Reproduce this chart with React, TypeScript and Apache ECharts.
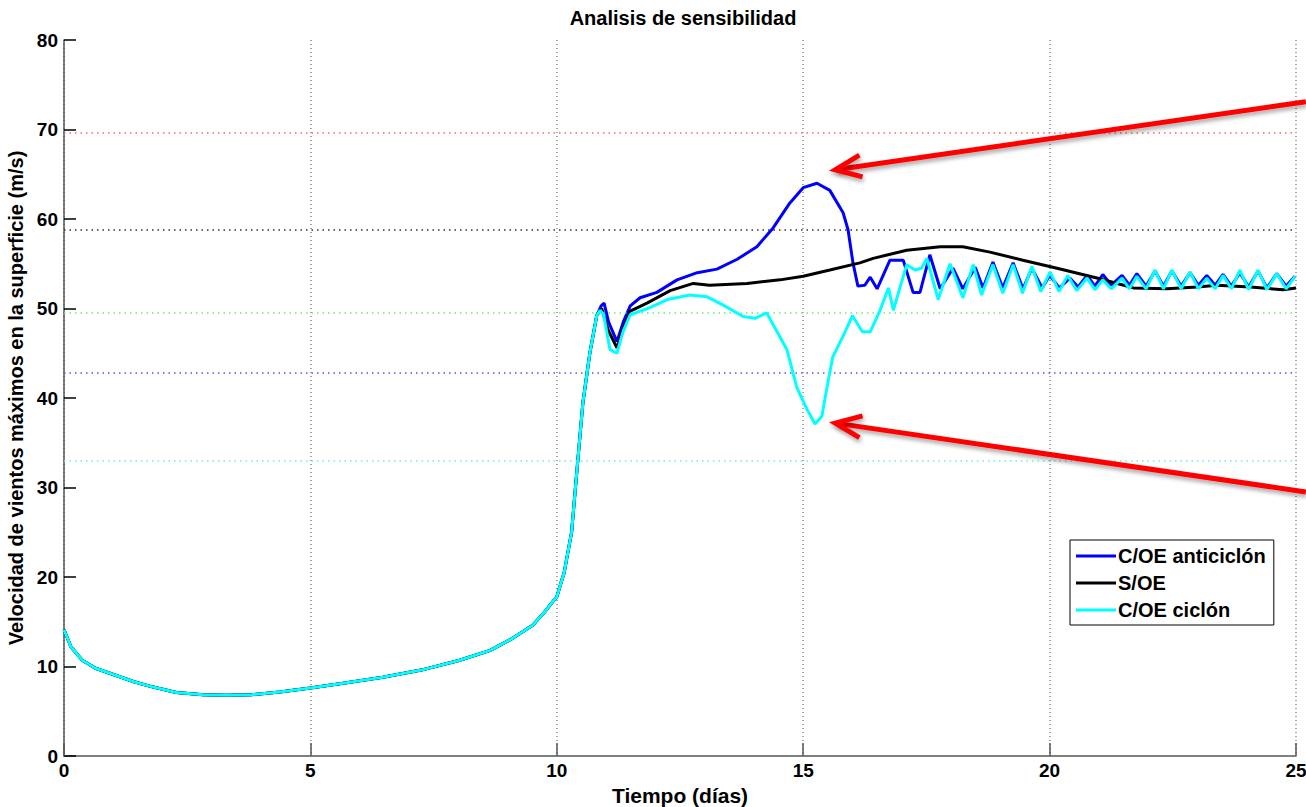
import React, { useEffect, useRef } from "react";
import * as echarts from "echarts";

// shared spin-up segment (all three runs identical)
const baseSegment: [number, number][] = [
  [0, 14.1], [0.14, 12.2], [0.37, 10.7], [0.64, 9.8], [1.03, 9.05], [1.42, 8.3], [1.81, 7.7],
  [2.28, 7.1], [2.82, 6.85], [3.3, 6.8], [3.8, 6.85], [4.38, 7.15], [5.0, 7.6], [5.7, 8.15],
  [6.47, 8.8], [7.25, 9.6], [8.03, 10.7], [8.65, 11.8], [9.12, 13.2], [9.51, 14.6], [9.74, 16.0],
  [10.0, 17.8], [10.15, 20.5], [10.3, 25], [10.41, 32], [10.53, 39.5], [10.67, 45], [10.81, 49.2],
];

const blueTail: [number, number][] = [
  [10.9, 50.3], [10.96, 50.6], [11.05, 48.5], [11.22, 46.3], [11.35, 48.5], [11.49, 50.3],
  [11.69, 51.2], [12.03, 51.8], [12.44, 53.2], [12.85, 54.0], [13.25, 54.4], [13.66, 55.5],
  [14.06, 56.9], [14.39, 59.0], [14.73, 61.8], [15.0, 63.5], [15.28, 64.0], [15.54, 63.2],
  [15.81, 60.7], [15.91, 58.8], [16.01, 55.1], [16.11, 52.5], [16.25, 52.6], [16.36, 53.5],
  [16.5, 52.2], [16.76, 55.4], [17.03, 55.4], [17.23, 51.8], [17.37, 51.8], [17.57, 56.0],
  [17.78, 52.2], [18.04, 54.5], [18.24, 52.2], [18.49, 54.6], [18.65, 52.3], [18.85, 55.2],
  [19.05, 52.3], [19.26, 55.1], [19.46, 52.2], [19.64, 54.5], [19.85, 52.3], [20.0, 53.7],
  [20.2, 52.3], [20.41, 53.4], [20.58, 52.4], [20.76, 53.7], [20.92, 52.5], [21.08, 53.8],
  [21.25, 52.6], [21.47, 53.7], [21.62, 52.6], [21.77, 53.9], [21.96, 52.5], [22.14, 54.2],
  [22.31, 52.5], [22.48, 54.2], [22.67, 52.5], [22.85, 54.0], [23.02, 52.6], [23.19, 53.7],
  [23.36, 52.6], [23.52, 53.8], [23.69, 52.5], [23.86, 54.0], [24.04, 52.4], [24.23, 54.2],
  [24.41, 52.3], [24.61, 53.9], [24.8, 52.5], [24.98, 53.6],
];

const blackTail: [number, number][] = [
  [10.91, 50.0], [11.05, 47.5], [11.22, 45.6], [11.35, 47.8], [11.49, 49.7], [11.83, 50.6],
  [12.3, 52.0], [12.77, 52.8], [13.1, 52.6], [13.86, 52.8], [14.53, 53.2], [15.0, 53.6],
  [15.54, 54.3], [16.15, 55.1], [16.42, 55.6], [17.1, 56.5], [17.78, 56.9], [18.24, 56.9],
  [18.79, 56.3], [19.46, 55.4], [20.15, 54.5], [20.96, 53.4], [21.37, 52.8], [21.7, 52.3],
  [22.38, 52.2], [23.0, 52.4], [23.4, 52.6], [24.07, 52.4], [24.74, 52.1], [25, 52.3],
];

const cyanTail: [number, number][] = [
  [10.88, 49.8], [10.95, 49.3], [11.08, 45.4], [11.22, 45.0], [11.35, 47.5], [11.49, 49.3],
  [11.89, 50.1], [12.24, 51.0], [12.7, 51.5], [13.05, 51.3], [13.37, 50.4], [13.78, 49.1],
  [14.02, 48.9], [14.26, 49.5], [14.47, 47.4], [14.67, 45.4], [14.87, 41.2], [15.08, 38.7],
  [15.24, 37.1], [15.38, 38.0], [15.5, 41.7], [15.6, 44.6], [15.8, 46.8], [16.0, 49.2],
  [16.2, 47.4], [16.36, 47.4], [16.56, 49.8], [16.73, 52.3], [16.83, 49.8], [17.1, 54.9],
  [17.27, 54.3], [17.4, 54.5], [17.51, 55.6], [17.74, 51.0], [17.98, 55.0], [18.24, 51.2],
  [18.45, 54.9], [18.62, 51.5], [18.85, 54.9], [19.05, 51.7], [19.26, 54.9], [19.45, 51.7],
  [19.64, 54.7], [19.82, 51.9], [20.01, 54.1], [20.19, 51.9], [20.37, 53.7], [20.55, 52.0],
  [20.76, 53.4], [20.92, 52.1], [21.08, 53.2], [21.25, 52.2], [21.47, 53.4], [21.62, 52.2],
  [21.77, 53.6], [21.96, 52.2], [22.14, 54.3], [22.31, 52.2], [22.48, 54.3], [22.67, 52.2],
  [22.85, 54.1], [23.02, 52.2], [23.19, 53.4], [23.36, 52.2], [23.52, 53.7], [23.69, 52.2],
  [23.86, 54.3], [24.04, 52.1], [24.23, 54.3], [24.41, 52.1], [24.61, 53.9], [24.8, 52.2],
  [24.98, 53.6],
];

const seriesNames = ["C/OE anticiclón", "S/OE", "C/OE ciclón"];
const seriesColors = ["#0000FF", "#000000", "#00FFFF"];

// horizontal dotted reference levels
const refLevels = [69.6, 58.8, 49.5, 42.8, 33.0];
const refColors = ["#ff6666", "#333333", "#66ee66", "#5555ee", "#66eeee"];

// annotation arrows [tail, head] in data coordinates (tail runs off the right edge)
const arrowUpper: [number, number][] = [[25.2, 73.1], [15.65, 65.5]];
const arrowLower: [number, number][] = [[25.2, 29.5], [15.65, 37.2]];

const xTicks = { min: 0, max: 25, interval: 5 };
const yTicks = { min: 0, max: 80, interval: 10 };

const FONT = "Liberation Sans, Arial, sans-serif";

export default function App() {
  const ref = useRef<HTMLDivElement>(null);
  useEffect(() => {
    document.body.style.margin = "0";
    const chart = echarts.init(ref.current!, null, { renderer: "svg" });
    const datasets = [
      baseSegment.concat(blueTail),
      baseSegment.concat(blackTail),
      baseSegment.concat(cyanTail),
    ];
    const lineSeries = datasets.map((d, i) => ({
      name: seriesNames[i],
      type: "line",
      data: d,
      symbol: "none",
      smooth: false,
      z: 3 + i,
      lineStyle: { color: seriesColors[i], width: 3 },
      itemStyle: { color: seriesColors[i] },
    }));
    chart.setOption({
      animation: false,
      backgroundColor: "#fff",
      textStyle: { fontFamily: FONT },
      title: {
        text: "Analisis de sensibilidad",
        left: 678,
        textAlign: "center",
        top: 3,
        textStyle: { fontFamily: FONT, fontWeight: "bold", fontSize: 20, color: "#000" },
      },
      grid: { left: 64, right: 10, top: 40, bottom: 51, containLabel: false, outerBoundsMode: "none" },
      xAxis: {
        type: "value",
        ...xTicks,
        name: "Tiempo (días)",
        nameLocation: "middle",
        nameGap: 29,
        nameTextStyle: { fontFamily: FONT, fontWeight: "bold", fontSize: 21, color: "#000" },
        axisLine: { show: true, onZero: false, lineStyle: { color: "#555", width: 1.5 } },
        axisTick: { show: true, inside: true, length: 13, lineStyle: { color: "#555", width: 1.5 } },
        axisLabel: { fontFamily: FONT, fontWeight: "bold", fontSize: 19, color: "#000", margin: 5 },
        splitLine: { show: true, lineStyle: { type: [1, 3], color: "#888", width: 1.5 } },
      },
      yAxis: {
        type: "value",
        ...yTicks,
        name: "Velocidad de vientos máximos en la superficie (m/s)",
        nameLocation: "middle",
        nameGap: 33,
        nameRotate: 90,
        nameTextStyle: { fontFamily: FONT, fontWeight: "bold", fontSize: 20, color: "#000" },
        axisLine: { show: true, onZero: false, lineStyle: { color: "#555", width: 1.5 } },
        axisTick: { show: true, inside: true, length: 12, lineStyle: { color: "#000", width: 1.5 } },
        axisLabel: { fontFamily: FONT, fontWeight: "bold", fontSize: 19, color: "#000", margin: 6 },
        splitLine: { show: false },
      },
      legend: {
        data: seriesNames,
        orient: "vertical",
        left: 1070,
        top: 540,
        backgroundColor: "#fff",
        borderColor: "#000",
        borderWidth: 1,
        borderRadius: 0,
        padding: [6, 8, 5, 6],
        itemGap: 7,
        itemWidth: 40,
        itemHeight: 3,
        icon: "rect",
        textStyle: { fontFamily: FONT, fontWeight: "bold", fontSize: 20, color: "#000", padding: [0, 0, 0, -3] },
      },
      series: [
        {
          name: "refs",
          type: "line",
          data: [],
          silent: true,
          z: 1,
          markLine: {
            silent: true,
            symbol: "none",
            label: { show: false },
            data: refLevels.map((v, i) => ({
              yAxis: v,
              lineStyle: { type: [1.5, 4], color: refColors[i], width: 1.5 },
            })),
          },
        },
        ...lineSeries,
      ],
    });

    // arrows: positions derived from data coordinates via the chart's own scales
    const shadow = { shadowBlur: 4, shadowColor: "rgba(0,0,0,0.35)", shadowOffsetX: 1, shadowOffsetY: 3 };
    const arrowEls: any[] = [];
    [arrowUpper, arrowLower].forEach((a) => {
      const p0 = chart.convertToPixel({ gridIndex: 0 }, a[0]) as number[];
      const p1 = chart.convertToPixel({ gridIndex: 0 }, a[1]) as number[];
      const dx = p0[0] - p1[0];
      const dy = p0[1] - p1[1];
      const len = Math.sqrt(dx * dx + dy * dy);
      const ux = dx / len;
      const uy = dy / len;
      const nx = -uy;
      const ny = ux;
      const headLen = 26;
      const headHalf = 11;
      const bx = p1[0] + ux * headLen;
      const by = p1[1] + uy * headLen;
      arrowEls.push({
        type: "line",
        silent: true,
        z: 100,
        shape: { x1: p0[0], y1: p0[1], x2: p1[0] + ux * 2, y2: p1[1] + uy * 2 },
        style: { stroke: "#ff0000", lineWidth: 5, ...shadow },
      });
      arrowEls.push({
        type: "polyline",
        silent: true,
        z: 100,
        shape: {
          points: [
            [bx + nx * headHalf, by + ny * headHalf],
            [p1[0], p1[1]],
            [bx - nx * headHalf, by - ny * headHalf],
          ],
        },
        style: { stroke: "#ff0000", lineWidth: 5, fill: "none", lineJoin: "miter", ...shadow },
      });
    });
    chart.setOption({ graphic: arrowEls });
    return () => chart.dispose();
  }, []);
  return <div ref={ref} style={{ width: 1306, height: 807 }} />;
}
